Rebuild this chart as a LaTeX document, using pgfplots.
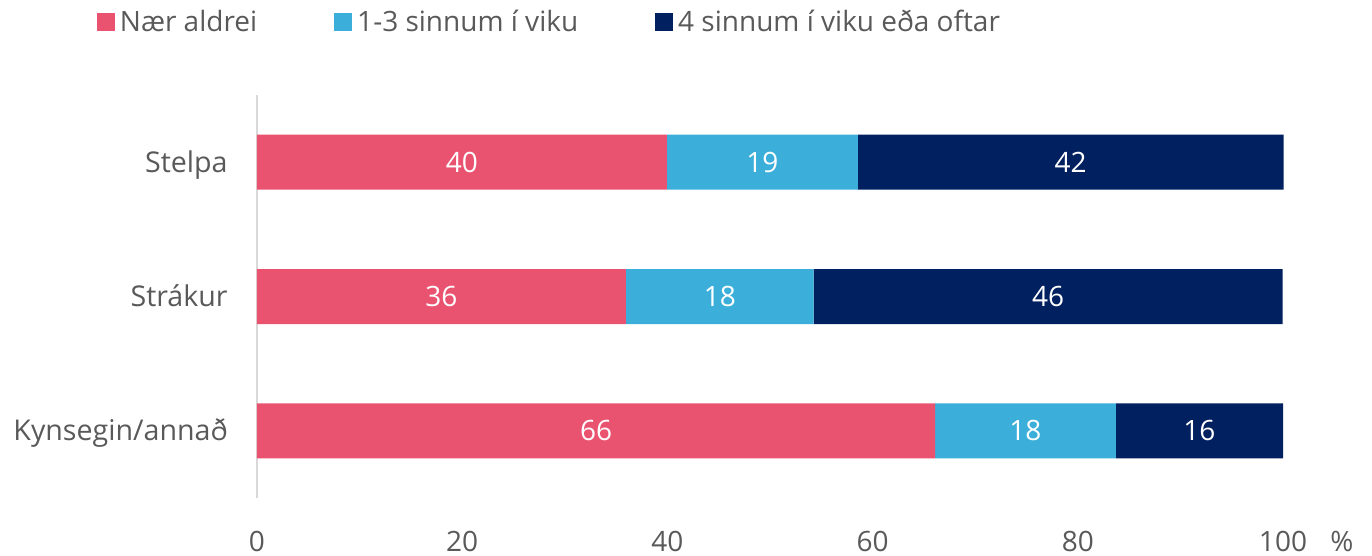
\documentclass[border=0pt]{standalone}
\usepackage{fontspec}
\setmainfont{Open Sans}
\usepackage{pgfplots}
\usepackage{pgfplotstable}
\pgfplotsset{compat=1.18}
\definecolor{cpink}{RGB}{234,83,112}
\definecolor{cblue}{RGB}{59,175,218}
\definecolor{cnavy}{RGB}{0,32,96}
\definecolor{tgray}{RGB}{89,89,89}
\definecolor{agray}{RGB}{217,217,217}
\pgfplotstableread{
y a la b lb c lc
0 39.96 40 18.6 19 41.5 42
1 35.96 36 18.3 18 45.7 46
2 66.1 66 17.6 18 16.3 16
}\data
\begin{document}
\begin{tikzpicture}[font=\fontsize{14pt}{16pt}\selectfont]
\begin{axis}[
  at={(0,0)}, anchor=south west,
  scale only axis, width=513pt, height=201.5pt, clip=false,
  xbar stacked, bar width=27.5pt,
  xmin=0, xmax=100, ymin=-0.5, ymax=2.5, y dir=reverse,
  axis x line*=bottom, axis y line*=left,
  x axis line style={draw=none},
  y axis line style={draw=agray, line width=1pt, -},
  major tick length=0pt,
  xtick={0,20,40,60,80,100},
  ytick={0,1,2}, yticklabels={Stelpa,Strákur,Kynsegin/annað},
  /pgf/number format/assume math mode=true,
  xticklabel style={anchor=base, yshift=-26.5pt, text=tgray, font=\fontsize{14pt}{16pt}\selectfont},
  yticklabel style={anchor=base east, inner sep=0pt, xshift=-14.5pt, yshift=-5pt, text=tgray, font=\fontsize{14.3pt}{16pt}\selectfont},
  point meta=explicit symbolic,
  nodes near coords,
  every node near coord/.append style={anchor=center, text=white, font=\fontsize{14pt}{16pt}\selectfont},
  legend columns=3,
  legend style={at={(axis description cs:-0.156,1.181)}, anchor=west, draw=none, fill=none, inner sep=0pt, outer sep=0pt,
    nodes={inner sep=2.5pt, text=tgray, font=\fontsize{14pt}{16pt}\selectfont},
    /tikz/every even column/.append style={column sep=36pt}},
  legend image code/.code={\fill[#1] (0pt,-4.6pt) rectangle (9pt,4.6pt);},
]
\addplot[fill=cpink, draw=none] table[x=a, y=y, meta=la] {\data};
\addplot[fill=cblue, draw=none] table[x=b, y=y, meta=lb] {\data};
\addplot[fill=cnavy, draw=none] table[x=c, y=y, meta=lc] {\data};
\legend{Nær aldrei, 1-3 sinnum í viku, 4 sinnum í viku eða oftar}
\node[anchor=base, yshift=-26.5pt, text=tgray] at (axis description cs:1.0575,0) {\%};
\end{axis}
\pgfresetboundingbox
\path[use as bounding box] (-128.5pt,-29pt) rectangle (557.5pt,249pt);
\end{tikzpicture}
\end{document}
